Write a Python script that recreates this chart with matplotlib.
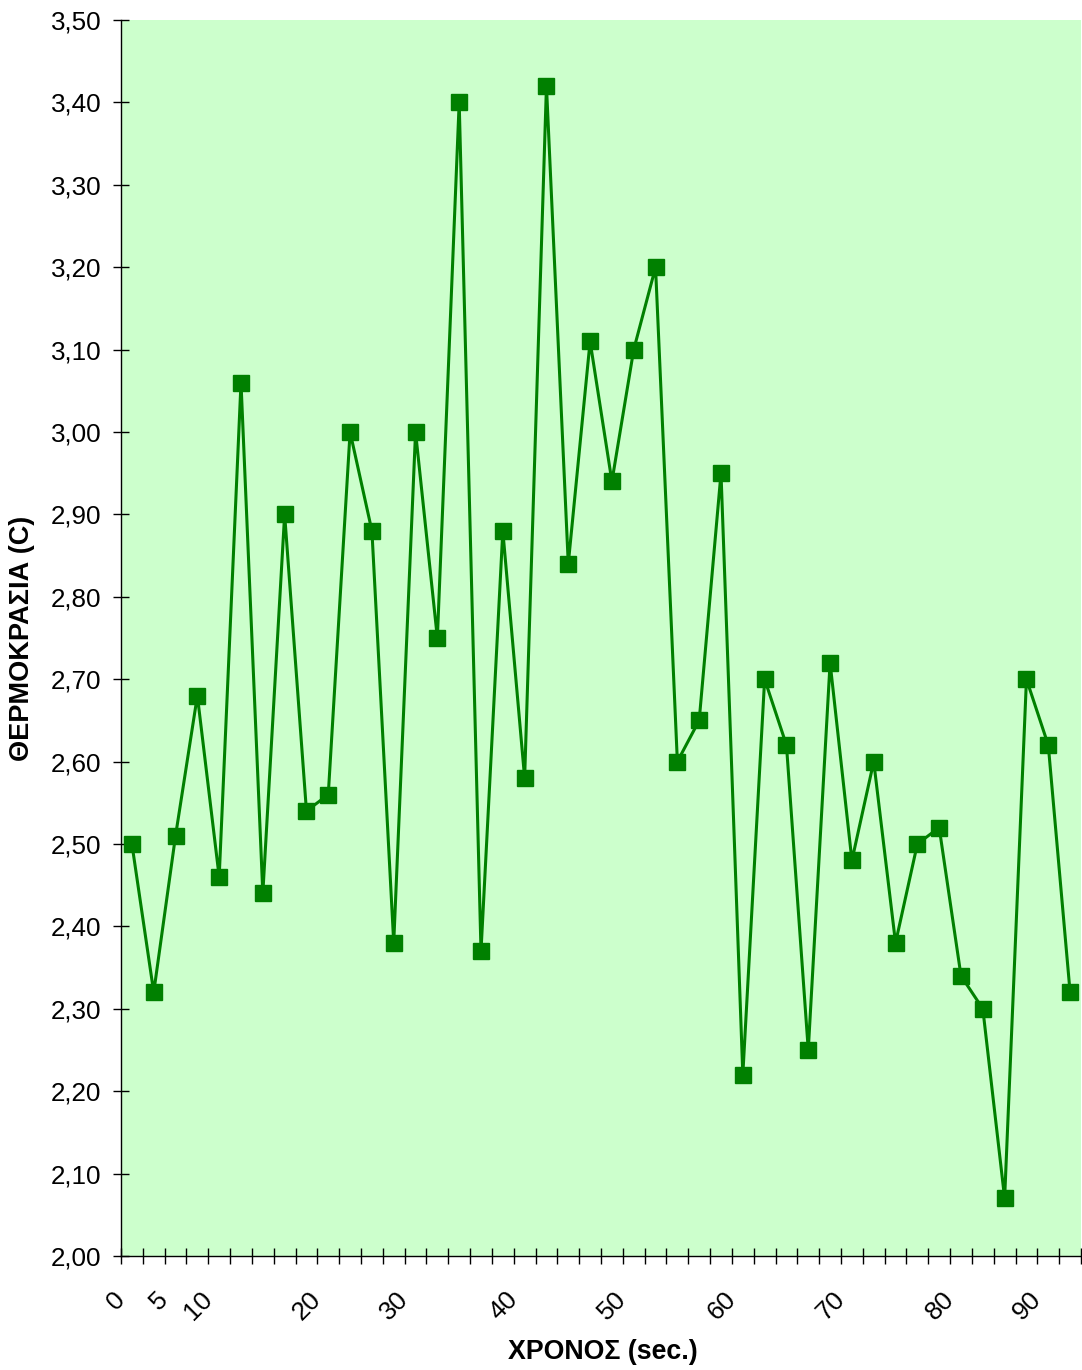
import matplotlib.pyplot as plt
import matplotlib.ticker as mticker

# temperature readings, one per sample (44 samples)
temperatura = [2.50, 2.32, 2.51, 2.68, 2.46, 3.06, 2.44, 2.90, 2.54, 2.56,
               3.00, 2.88, 2.38, 3.00, 2.75, 3.40, 2.37, 2.88, 2.58, 3.42,
               2.84, 3.11, 2.94, 3.10, 3.20, 2.60, 2.65, 2.95, 2.22, 2.70,
               2.62, 2.25, 2.72, 2.48, 2.60, 2.38, 2.50, 2.52, 2.34, 2.30,
               2.07, 2.70, 2.62, 2.32]

# time labels shown on the category axis and the sample boundary they sit on
tempo_labels = ["0", "5", "10", "20", "30", "40", "50", "60", "70", "80", "90"]
tempo_amostra = [0, 2, 4, 9, 13, 18, 23, 28, 33, 38, 42]

plt.rcParams['font.family'] = ['Liberation Sans', 'DejaVu Sans']

fig = plt.figure(figsize=(10.82, 13.70), dpi=100)
ax = fig.add_axes([121 / 1082, 1 - 1256 / 1370, 960 / 1082, 1236 / 1370])
ax.set_facecolor('#CCFFCC')

n = len(temperatura)
x = [i + 0.5 for i in range(n)]
ax.plot(x, temperatura, color='#008000', linewidth=2.2, marker='s',
        markersize=11, markerfacecolor='#008000', markeredgecolor='#008000',
        clip_on=False, zorder=3)

ax.set_xlim(0, n)
ax.set_ylim(2.0, 3.5)

ax.yaxis.set_major_locator(mticker.MultipleLocator(0.1))
ax.yaxis.set_major_formatter(mticker.FuncFormatter(lambda v, p: f"{v:.2f}".replace('.', ',')))

ticks = list(range(n + 1))
labels = [''] * (n + 1)
for lab, pos in zip(tempo_labels, tempo_amostra):
    labels[pos] = lab
ax.set_xticks(ticks)
ax.set_xticklabels(labels, rotation=45, ha='right', va='center',
                   rotation_mode='anchor')

ax.tick_params(axis='both', direction='inout', length=11.5, width=1,
               color='black', labelsize=18.7)
ax.tick_params(axis='y', pad=8.4)
ax.tick_params(axis='x', pad=23)

for s in ['top', 'right']:
    ax.spines[s].set_visible(False)
for s in ['left', 'bottom']:
    ax.spines[s].set_linewidth(1)
    ax.spines[s].set_color('black')

fig.text(603 / 1082, 1 - 1352 / 1370, "ΧΡΟΝΟΣ (sec.)", ha='center', va='center',
         fontsize=19.3, fontweight='bold')
fig.text(22 / 1082, 1 - 638 / 1370, "ΘΕΡΜΟΚΡΑΣΙΑ (C)", ha='center', va='center',
         rotation=90, fontsize=19.5, fontweight='bold')

fig.savefig("out.png", dpi=100)
plt.close(fig)
